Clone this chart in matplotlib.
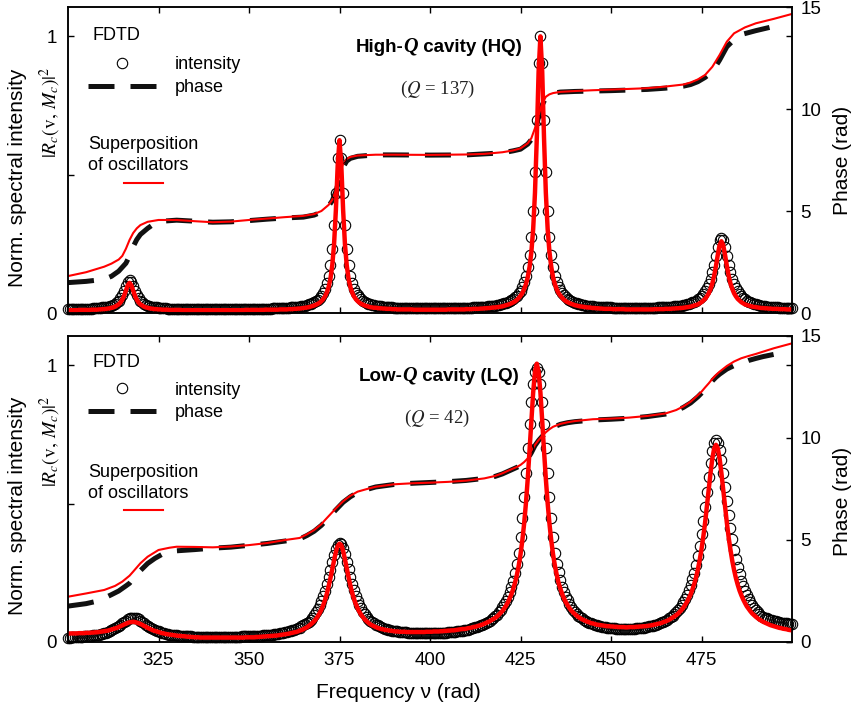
import numpy as np
import matplotlib
matplotlib.use("Agg")
import matplotlib.pyplot as plt
from matplotlib.lines import Line2D
from matplotlib.offsetbox import TextArea, HPacker, AnchoredOffsetbox

plt.rcParams['font.family'] = ['Liberation Sans', 'DejaVu Sans']
plt.rcParams['mathtext.fontset'] = 'stix'

# FDTD sampling of the frequency axis (rad)
freq = np.arange(300.0, 500.25, 0.5)

# High-Q cavity: normalised spectral intensity, FDTD points and oscillator fit
hq_fdtd = [
    0.014, 0.014, 0.014, 0.014, 0.014, 0.015, 0.015, 0.015, 0.015, 0.015,
    0.015, 0.016, 0.016, 0.016, 0.017, 0.017, 0.018, 0.018, 0.019, 0.020,
    0.021, 0.022, 0.023, 0.025, 0.027, 0.030, 0.034, 0.038, 0.045, 0.054,
    0.065, 0.080, 0.097, 0.111, 0.118, 0.111, 0.097, 0.080, 0.065, 0.054,
    0.045, 0.038, 0.034, 0.030, 0.027, 0.025, 0.023, 0.022, 0.021, 0.020,
    0.019, 0.018, 0.018, 0.017, 0.017, 0.016, 0.016, 0.016, 0.015, 0.015,
    0.015, 0.015, 0.015, 0.015, 0.015, 0.015, 0.014, 0.014, 0.014, 0.014,
    0.014, 0.014, 0.014, 0.014, 0.014, 0.014, 0.014, 0.014, 0.014, 0.014,
    0.014, 0.014, 0.014, 0.014, 0.014, 0.014, 0.014, 0.014, 0.014, 0.014,
    0.014, 0.014, 0.014, 0.014, 0.014, 0.014, 0.014, 0.014, 0.014, 0.015,
    0.015, 0.015, 0.015, 0.015, 0.015, 0.015, 0.015, 0.016, 0.016, 0.016,
    0.016, 0.016, 0.016, 0.017, 0.017, 0.017, 0.017, 0.017, 0.018, 0.018,
    0.018, 0.019, 0.019, 0.020, 0.020, 0.021, 0.022, 0.023, 0.023, 0.025,
    0.026, 0.027, 0.029, 0.031, 0.033, 0.036, 0.039, 0.043, 0.048, 0.055,
    0.063, 0.074, 0.088, 0.107, 0.135, 0.174, 0.232, 0.317, 0.435, 0.561,
    0.623, 0.561, 0.435, 0.317, 0.232, 0.174, 0.135, 0.107, 0.088, 0.074,
    0.064, 0.056, 0.049, 0.044, 0.040, 0.037, 0.034, 0.032, 0.030, 0.028,
    0.027, 0.025, 0.024, 0.024, 0.023, 0.022, 0.021, 0.021, 0.020, 0.020,
    0.019, 0.019, 0.019, 0.018, 0.018, 0.018, 0.018, 0.018, 0.018, 0.017,
    0.017, 0.017, 0.017, 0.017, 0.017, 0.017, 0.017, 0.017, 0.017, 0.017,
    0.017, 0.017, 0.017, 0.017, 0.017, 0.017, 0.017, 0.017, 0.017, 0.017,
    0.017, 0.017, 0.017, 0.017, 0.017, 0.017, 0.018, 0.018, 0.018, 0.018,
    0.018, 0.019, 0.019, 0.019, 0.020, 0.020, 0.020, 0.020, 0.021, 0.021,
    0.022, 0.023, 0.024, 0.024, 0.025, 0.026, 0.027, 0.028, 0.030, 0.031,
    0.033, 0.035, 0.037, 0.040, 0.043, 0.047, 0.051, 0.056, 0.063, 0.071,
    0.081, 0.095, 0.112, 0.135, 0.167, 0.211, 0.275, 0.369, 0.508, 0.698,
    0.904, 1.002, 0.904, 0.698, 0.508, 0.369, 0.275, 0.211, 0.167, 0.135,
    0.112, 0.095, 0.082, 0.072, 0.064, 0.057, 0.052, 0.048, 0.043, 0.040,
    0.037, 0.035, 0.033, 0.031, 0.030, 0.028, 0.027, 0.026, 0.025, 0.024,
    0.024, 0.023, 0.023, 0.022, 0.022, 0.021, 0.021, 0.021, 0.020, 0.020,
    0.020, 0.019, 0.019, 0.019, 0.019, 0.019, 0.019, 0.019, 0.019, 0.018,
    0.018, 0.018, 0.018, 0.018, 0.018, 0.018, 0.018, 0.018, 0.018, 0.018,
    0.019, 0.019, 0.019, 0.019, 0.019, 0.019, 0.020, 0.020, 0.020, 0.020,
    0.021, 0.021, 0.022, 0.022, 0.023, 0.024, 0.024, 0.025, 0.026, 0.027,
    0.028, 0.030, 0.031, 0.033, 0.035, 0.038, 0.041, 0.045, 0.049, 0.054,
    0.060, 0.068, 0.078, 0.090, 0.105, 0.124, 0.147, 0.175, 0.206, 0.238,
    0.262, 0.271, 0.262, 0.238, 0.206, 0.175, 0.147, 0.124, 0.105, 0.090,
    0.078, 0.068, 0.060, 0.054, 0.049, 0.045, 0.041, 0.038, 0.035, 0.033,
    0.031, 0.029, 0.028, 0.026, 0.025, 0.024, 0.023, 0.023, 0.022, 0.021,
    0.021, 0.020, 0.020, 0.019, 0.019, 0.019, 0.018, 0.018, 0.018, 0.017,
    0.017]

hq_fit = [
    0.010, 0.010, 0.010, 0.010, 0.010, 0.010, 0.011, 0.011, 0.011, 0.011,
    0.011, 0.011, 0.011, 0.012, 0.012, 0.012, 0.012, 0.013, 0.013, 0.014,
    0.014, 0.015, 0.016, 0.017, 0.019, 0.020, 0.023, 0.027, 0.031, 0.038,
    0.048, 0.062, 0.081, 0.100, 0.109, 0.100, 0.081, 0.062, 0.048, 0.038,
    0.031, 0.027, 0.023, 0.020, 0.019, 0.017, 0.016, 0.015, 0.014, 0.014,
    0.013, 0.013, 0.012, 0.012, 0.012, 0.012, 0.011, 0.011, 0.011, 0.011,
    0.011, 0.011, 0.011, 0.010, 0.010, 0.010, 0.010, 0.010, 0.010, 0.010,
    0.010, 0.010, 0.010, 0.010, 0.010, 0.010, 0.010, 0.010, 0.010, 0.010,
    0.010, 0.010, 0.010, 0.010, 0.010, 0.010, 0.010, 0.010, 0.010, 0.010,
    0.010, 0.010, 0.010, 0.010, 0.010, 0.010, 0.010, 0.010, 0.011, 0.011,
    0.011, 0.011, 0.011, 0.011, 0.011, 0.011, 0.011, 0.011, 0.011, 0.012,
    0.012, 0.012, 0.012, 0.012, 0.012, 0.012, 0.012, 0.013, 0.013, 0.013,
    0.013, 0.013, 0.014, 0.014, 0.014, 0.015, 0.015, 0.016, 0.016, 0.017,
    0.018, 0.019, 0.020, 0.021, 0.023, 0.025, 0.027, 0.030, 0.033, 0.037,
    0.043, 0.050, 0.060, 0.074, 0.094, 0.124, 0.172, 0.249, 0.372, 0.533,
    0.624, 0.533, 0.372, 0.249, 0.172, 0.124, 0.094, 0.074, 0.060, 0.050,
    0.043, 0.037, 0.033, 0.030, 0.027, 0.025, 0.023, 0.021, 0.020, 0.019,
    0.019, 0.018, 0.017, 0.017, 0.016, 0.016, 0.015, 0.015, 0.015, 0.014,
    0.014, 0.014, 0.013, 0.013, 0.013, 0.013, 0.013, 0.013, 0.013, 0.013,
    0.013, 0.012, 0.012, 0.012, 0.012, 0.012, 0.012, 0.012, 0.012, 0.012,
    0.012, 0.012, 0.012, 0.012, 0.012, 0.012, 0.012, 0.012, 0.012, 0.012,
    0.013, 0.013, 0.013, 0.013, 0.013, 0.013, 0.013, 0.013, 0.013, 0.013,
    0.014, 0.014, 0.014, 0.014, 0.015, 0.015, 0.015, 0.015, 0.016, 0.016,
    0.017, 0.017, 0.018, 0.018, 0.019, 0.020, 0.020, 0.021, 0.022, 0.023,
    0.024, 0.026, 0.028, 0.030, 0.032, 0.035, 0.038, 0.042, 0.047, 0.054,
    0.062, 0.072, 0.086, 0.104, 0.129, 0.166, 0.220, 0.303, 0.434, 0.631,
    0.871, 0.999, 0.871, 0.631, 0.434, 0.303, 0.220, 0.166, 0.129, 0.104,
    0.086, 0.072, 0.063, 0.055, 0.048, 0.043, 0.039, 0.036, 0.033, 0.031,
    0.028, 0.027, 0.025, 0.024, 0.023, 0.022, 0.021, 0.020, 0.020, 0.019,
    0.018, 0.018, 0.017, 0.017, 0.016, 0.016, 0.015, 0.015, 0.015, 0.015,
    0.015, 0.014, 0.014, 0.014, 0.014, 0.014, 0.014, 0.014, 0.013, 0.013,
    0.013, 0.013, 0.013, 0.013, 0.013, 0.013, 0.013, 0.013, 0.013, 0.013,
    0.013, 0.013, 0.013, 0.013, 0.014, 0.014, 0.014, 0.014, 0.014, 0.014,
    0.015, 0.015, 0.015, 0.015, 0.016, 0.016, 0.017, 0.017, 0.018, 0.018,
    0.019, 0.020, 0.021, 0.022, 0.023, 0.025, 0.027, 0.029, 0.031, 0.035,
    0.039, 0.045, 0.051, 0.060, 0.071, 0.087, 0.107, 0.135, 0.170, 0.210,
    0.245, 0.259, 0.245, 0.210, 0.170, 0.135, 0.107, 0.087, 0.071, 0.060,
    0.051, 0.045, 0.039, 0.035, 0.031, 0.029, 0.027, 0.025, 0.023, 0.022,
    0.021, 0.020, 0.019, 0.018, 0.018, 0.017, 0.017, 0.016, 0.016, 0.015,
    0.015, 0.015, 0.015, 0.014, 0.014, 0.014, 0.014, 0.013, 0.013, 0.013,
    0.013]

# Low-Q cavity: normalised spectral intensity
lq_fdtd = [
    0.016, 0.016, 0.017, 0.017, 0.017, 0.018, 0.018, 0.019, 0.019, 0.020,
    0.021, 0.021, 0.022, 0.023, 0.024, 0.025, 0.026, 0.027, 0.029, 0.030,
    0.032, 0.034, 0.037, 0.039, 0.042, 0.046, 0.049, 0.053, 0.058, 0.063,
    0.068, 0.073, 0.077, 0.082, 0.085, 0.087, 0.088, 0.087, 0.085, 0.082,
    0.077, 0.073, 0.068, 0.063, 0.058, 0.054, 0.050, 0.046, 0.043, 0.040,
    0.038, 0.035, 0.034, 0.032, 0.030, 0.029, 0.027, 0.026, 0.025, 0.024,
    0.024, 0.023, 0.022, 0.022, 0.021, 0.021, 0.020, 0.020, 0.020, 0.019,
    0.019, 0.019, 0.019, 0.019, 0.018, 0.018, 0.018, 0.018, 0.018, 0.018,
    0.018, 0.018, 0.018, 0.018, 0.018, 0.018, 0.018, 0.018, 0.018, 0.018,
    0.019, 0.019, 0.019, 0.019, 0.019, 0.019, 0.020, 0.020, 0.020, 0.020,
    0.021, 0.021, 0.021, 0.021, 0.022, 0.022, 0.023, 0.023, 0.024, 0.024,
    0.025, 0.026, 0.027, 0.027, 0.028, 0.029, 0.030, 0.031, 0.032, 0.033,
    0.035, 0.036, 0.038, 0.040, 0.042, 0.044, 0.046, 0.049, 0.052, 0.056,
    0.060, 0.064, 0.069, 0.074, 0.081, 0.088, 0.097, 0.107, 0.118, 0.132,
    0.147, 0.165, 0.185, 0.208, 0.233, 0.260, 0.288, 0.315, 0.337, 0.352,
    0.358, 0.353, 0.338, 0.316, 0.290, 0.262, 0.235, 0.209, 0.187, 0.166,
    0.149, 0.134, 0.121, 0.109, 0.100, 0.091, 0.084, 0.077, 0.072, 0.067,
    0.063, 0.060, 0.056, 0.053, 0.051, 0.048, 0.046, 0.044, 0.043, 0.041,
    0.040, 0.039, 0.038, 0.037, 0.036, 0.036, 0.035, 0.035, 0.034, 0.034,
    0.033, 0.033, 0.032, 0.032, 0.032, 0.032, 0.032, 0.032, 0.032, 0.032,
    0.032, 0.032, 0.032, 0.032, 0.033, 0.033, 0.033, 0.033, 0.034, 0.034,
    0.035, 0.035, 0.036, 0.036, 0.037, 0.038, 0.039, 0.040, 0.041, 0.042,
    0.043, 0.045, 0.047, 0.049, 0.051, 0.053, 0.055, 0.057, 0.060, 0.063,
    0.066, 0.069, 0.073, 0.077, 0.082, 0.087, 0.093, 0.099, 0.107, 0.115,
    0.125, 0.136, 0.148, 0.163, 0.180, 0.199, 0.222, 0.250, 0.282, 0.321,
    0.380, 0.448, 0.525, 0.610, 0.700, 0.788, 0.867, 0.931, 0.975, 0.988,
    0.975, 0.931, 0.867, 0.788, 0.700, 0.610, 0.525, 0.447, 0.380, 0.321,
    0.283, 0.251, 0.223, 0.200, 0.181, 0.164, 0.150, 0.137, 0.127, 0.117,
    0.109, 0.102, 0.095, 0.090, 0.085, 0.080, 0.076, 0.073, 0.070, 0.067,
    0.064, 0.062, 0.060, 0.058, 0.057, 0.055, 0.054, 0.053, 0.052, 0.051,
    0.050, 0.049, 0.049, 0.048, 0.048, 0.048, 0.047, 0.047, 0.047, 0.047,
    0.047, 0.048, 0.048, 0.048, 0.049, 0.050, 0.050, 0.051, 0.052, 0.053,
    0.054, 0.056, 0.057, 0.059, 0.061, 0.063, 0.065, 0.068, 0.071, 0.074,
    0.077, 0.081, 0.085, 0.090, 0.095, 0.101, 0.108, 0.115, 0.124, 0.133,
    0.144, 0.156, 0.170, 0.186, 0.205, 0.226, 0.250, 0.279, 0.311, 0.348,
    0.390, 0.437, 0.488, 0.543, 0.597, 0.648, 0.691, 0.719, 0.729, 0.720,
    0.695, 0.657, 0.611, 0.560, 0.509, 0.459, 0.413, 0.371, 0.333, 0.300,
    0.271, 0.245, 0.222, 0.202, 0.185, 0.169, 0.156, 0.144, 0.133, 0.124,
    0.115, 0.108, 0.101, 0.095, 0.092, 0.088, 0.085, 0.083, 0.080, 0.078,
    0.077, 0.075, 0.073, 0.071, 0.070, 0.069, 0.068, 0.067, 0.066, 0.066,
    0.065]

lq_fit = [
    0.030, 0.031, 0.031, 0.031, 0.031, 0.031, 0.032, 0.032, 0.032, 0.032,
    0.033, 0.033, 0.033, 0.034, 0.034, 0.035, 0.035, 0.036, 0.037, 0.038,
    0.039, 0.040, 0.041, 0.043, 0.045, 0.047, 0.049, 0.051, 0.054, 0.057,
    0.060, 0.063, 0.066, 0.069, 0.071, 0.072, 0.073, 0.072, 0.070, 0.068,
    0.065, 0.062, 0.058, 0.055, 0.051, 0.048, 0.045, 0.042, 0.040, 0.038,
    0.036, 0.034, 0.032, 0.031, 0.029, 0.028, 0.027, 0.026, 0.025, 0.024,
    0.023, 0.022, 0.022, 0.021, 0.021, 0.020, 0.019, 0.019, 0.018, 0.018,
    0.017, 0.017, 0.017, 0.016, 0.016, 0.016, 0.016, 0.016, 0.016, 0.016,
    0.016, 0.016, 0.016, 0.016, 0.016, 0.016, 0.016, 0.016, 0.016, 0.016,
    0.016, 0.016, 0.016, 0.016, 0.016, 0.016, 0.016, 0.016, 0.017, 0.017,
    0.017, 0.017, 0.017, 0.017, 0.018, 0.018, 0.019, 0.019, 0.020, 0.020,
    0.021, 0.021, 0.022, 0.022, 0.023, 0.023, 0.024, 0.025, 0.026, 0.027,
    0.028, 0.029, 0.030, 0.032, 0.033, 0.035, 0.036, 0.038, 0.041, 0.043,
    0.046, 0.050, 0.053, 0.058, 0.063, 0.069, 0.075, 0.083, 0.093, 0.104,
    0.117, 0.133, 0.152, 0.174, 0.201, 0.231, 0.263, 0.297, 0.326, 0.347,
    0.355, 0.350, 0.329, 0.299, 0.266, 0.234, 0.204, 0.178, 0.156, 0.137,
    0.122, 0.109, 0.098, 0.089, 0.081, 0.075, 0.069, 0.064, 0.060, 0.057,
    0.054, 0.051, 0.049, 0.047, 0.046, 0.044, 0.043, 0.042, 0.041, 0.040,
    0.039, 0.038, 0.038, 0.037, 0.037, 0.037, 0.037, 0.036, 0.036, 0.036,
    0.036, 0.036, 0.036, 0.036, 0.036, 0.036, 0.036, 0.036, 0.037, 0.037,
    0.037, 0.037, 0.038, 0.038, 0.038, 0.038, 0.039, 0.039, 0.040, 0.040,
    0.041, 0.041, 0.042, 0.042, 0.043, 0.044, 0.045, 0.046, 0.047, 0.047,
    0.048, 0.050, 0.051, 0.052, 0.054, 0.055, 0.057, 0.059, 0.061, 0.063,
    0.066, 0.069, 0.072, 0.075, 0.079, 0.083, 0.087, 0.092, 0.098, 0.105,
    0.112, 0.121, 0.131, 0.143, 0.157, 0.173, 0.192, 0.215, 0.242, 0.275,
    0.316, 0.366, 0.427, 0.501, 0.589, 0.691, 0.799, 0.901, 0.977, 1.005,
    0.976, 0.901, 0.799, 0.690, 0.589, 0.501, 0.427, 0.366, 0.316, 0.276,
    0.243, 0.215, 0.193, 0.174, 0.158, 0.144, 0.133, 0.123, 0.114, 0.107,
    0.101, 0.095, 0.090, 0.086, 0.082, 0.079, 0.076, 0.073, 0.071, 0.068,
    0.067, 0.065, 0.063, 0.062, 0.061, 0.060, 0.059, 0.058, 0.057, 0.057,
    0.056, 0.056, 0.055, 0.055, 0.054, 0.054, 0.054, 0.054, 0.053, 0.053,
    0.054, 0.054, 0.054, 0.054, 0.055, 0.055, 0.056, 0.056, 0.057, 0.057,
    0.058, 0.059, 0.060, 0.061, 0.063, 0.064, 0.066, 0.067, 0.069, 0.072,
    0.074, 0.077, 0.080, 0.084, 0.088, 0.092, 0.097, 0.102, 0.109, 0.116,
    0.124, 0.134, 0.145, 0.158, 0.172, 0.190, 0.210, 0.234, 0.262, 0.296,
    0.335, 0.380, 0.432, 0.490, 0.551, 0.611, 0.663, 0.699, 0.712, 0.699,
    0.663, 0.610, 0.550, 0.488, 0.431, 0.378, 0.333, 0.293, 0.260, 0.231,
    0.207, 0.186, 0.169, 0.154, 0.141, 0.129, 0.120, 0.111, 0.103, 0.097,
    0.091, 0.086, 0.081, 0.077, 0.073, 0.070, 0.067, 0.064, 0.061, 0.059,
    0.057, 0.055, 0.053, 0.051, 0.050, 0.048, 0.047, 0.046, 0.044, 0.043,
    0.042]

# Phase (rad): oscillator fit (red) and FDTD (dashed)
hq_ph_fit_nu = [300, 305, 310, 312, 314, 315, 316, 317, 318, 319,
                320, 322, 325, 330, 335, 340, 345, 350, 355, 360,
                365, 368, 370, 372, 373, 374, 374.5, 375, 375.5, 376,
                377, 378, 380, 385, 390, 400, 410, 415, 420, 423,
                425, 427, 428, 429, 430, 431, 432, 433, 434, 436,
                440, 445, 450, 460, 465, 470, 472, 474, 476, 478,
                480, 482, 484, 487, 490, 495, 500]
hq_ph_fit = [1.81, 2.0, 2.27, 2.42, 2.62, 2.8, 3.15, 3.58, 3.92, 4.15,
             4.31, 4.47, 4.56, 4.56, 4.5, 4.45, 4.48, 4.56, 4.63, 4.7,
             4.76, 4.85, 5.0, 5.3, 5.55, 6.0, 6.4, 6.85, 7.1, 7.3,
             7.55, 7.65, 7.72, 7.76, 7.76, 7.75, 7.77, 7.8, 7.88, 7.97,
             8.07, 8.32, 8.57, 9.06, 9.7, 10.28, 10.6, 10.72, 10.78, 10.84,
             10.88, 10.92, 10.95, 11.02, 11.1, 11.2, 11.3, 11.45, 11.67, 12.07,
             12.65, 13.3, 13.71, 14.0, 14.2, 14.42, 14.66]
hq_ph_fdtd_nu = [300, 305, 310, 312, 314, 316, 317, 318, 319, 320,
                 322, 324, 326, 330, 335, 340, 345, 350, 355, 360,
                 365, 368, 370, 372, 373, 374, 375, 376, 377, 378,
                 380, 385, 390, 400, 410, 420, 423, 425, 427, 428,
                 429, 430, 431, 432, 433, 434, 436, 440, 450, 460,
                 465, 470, 472, 474, 476, 478, 480, 482, 484, 486,
                 490, 495, 498]
hq_ph_fdtd = [1.49, 1.55, 1.65, 1.8, 2.05, 2.44, 2.8, 3.25, 3.6, 3.85,
              4.15, 4.4, 4.5, 4.55, 4.5, 4.45, 4.47, 4.53, 4.6, 4.66,
              4.7, 4.8, 4.95, 5.25, 5.5, 5.95, 6.6, 7.15, 7.45, 7.58,
              7.68, 7.75, 7.75, 7.74, 7.75, 7.85, 7.95, 8.03, 8.28, 8.5,
              8.95, 9.6, 10.2, 10.55, 10.7, 10.77, 10.83, 10.86, 10.9, 10.96,
              11.02, 11.12, 11.2, 11.34, 11.55, 11.83, 12.4, 13.05, 13.4, 13.65,
              13.84, 14.05, 14.12]

lq_ph_fit_nu = [300, 305, 310, 313, 315, 317, 318, 320, 322, 324,
                325, 328, 330, 335, 340, 345, 350, 355, 360, 364,
                366, 368, 370, 371, 372, 374, 376, 377, 378, 380,
                383, 385, 390, 395, 400, 405, 410, 415, 418, 420,
                422, 424, 425, 426, 427, 428, 429, 430, 431, 432,
                433, 434, 436, 438, 440, 445, 450, 455, 460, 465,
                468, 470, 472, 474, 475, 476, 477, 478, 479, 480,
                482, 484, 486, 488, 490, 495, 500]
lq_ph_fit = [2.22, 2.38, 2.55, 2.75, 2.96, 3.25, 3.45, 3.86, 4.18, 4.4,
             4.51, 4.62, 4.67, 4.66, 4.64, 4.68, 4.75, 4.85, 5.0, 5.1,
             5.28, 5.49, 5.78, 5.98, 6.17, 6.55, 6.9, 7.04, 7.17, 7.37,
             7.52, 7.61, 7.73, 7.78, 7.81, 7.85, 7.91, 8.02, 8.14, 8.27,
             8.43, 8.58, 8.68, 8.82, 9.0, 9.3, 9.66, 9.9, 10.1, 10.28,
             10.43, 10.55, 10.69, 10.77, 10.83, 10.92, 10.95, 11.0, 11.08, 11.2,
             11.37, 11.55, 11.78, 12.1, 12.27, 12.48, 12.68, 12.9, 13.09, 13.25,
             13.53, 13.75, 13.91, 14.02, 14.12, 14.4, 14.64]
lq_ph_fdtd_nu = [300, 305, 308, 310, 312, 314, 316, 317, 318, 320,
                 322, 324, 326, 328, 330, 335, 340, 345, 350, 355,
                 360, 364, 366, 368, 370, 372, 374, 376, 378, 380,
                 383, 385, 390, 395, 400, 405, 410, 415, 418, 420,
                 422, 424, 425, 426, 427, 428, 429, 430, 431, 432,
                 433, 434, 436, 438, 440, 445, 450, 455, 460, 465,
                 468, 470, 472, 474, 475, 476, 477, 478, 479, 480,
                 482, 484, 486, 488, 490, 492, 495, 498]
lq_ph_fdtd = [1.76, 1.88, 2.0, 2.15, 2.32, 2.5, 2.75, 2.88, 3.1, 3.5,
              3.85, 4.1, 4.3, 4.4, 4.47, 4.53, 4.6, 4.65, 4.74, 4.83,
              4.95, 5.05, 5.22, 5.43, 5.72, 6.1, 6.48, 6.85, 7.12, 7.33,
              7.5, 7.6, 7.72, 7.78, 7.82, 7.86, 7.92, 8.02, 8.12, 8.24,
              8.4, 8.56, 8.66, 8.8, 8.98, 9.28, 9.63, 9.88, 10.08, 10.26,
              10.41, 10.53, 10.67, 10.75, 10.8, 10.88, 10.92, 10.97, 11.05, 11.17,
              11.33, 11.5, 11.72, 12.02, 12.2, 12.4, 12.6, 12.8, 12.98, 13.13,
              13.38, 13.55, 13.66, 13.8, 13.9, 13.99, 14.1, 14.2]

freq_ticks = [325, 350, 375, 400, 425, 450, 475]
phase_ticks = [0, 5, 10, 15]

RED = "#ff0000"
BLACK = "#111111"
DASH = (5.2, 3.2)
FS = 13

W, H = 854, 707
fig = plt.figure(figsize=(W / 100, H / 100), dpi=100)


def px_rect(left, top, right, bottom):
    return [left / W, 1 - bottom / H, (right - left) / W, (bottom - top) / H]


ax_hq = fig.add_axes(px_rect(68, 7, 792, 313))
ax_lq = fig.add_axes(px_rect(68, 336, 792, 642))

# per panel: legend anchor heights (axes fraction) for FDTD, entries, fit key
panels = [
    (ax_hq, hq_fdtd, hq_fit, hq_ph_fdtd_nu, hq_ph_fdtd, hq_ph_fit_nu, hq_ph_fit,
     "High-", " cavity (HQ)", "137", 0.908, 0.839, 0.577),
    (ax_lq, lq_fdtd, lq_fit, lq_ph_fdtd_nu, lq_ph_fdtd, lq_ph_fit_nu, lq_ph_fit,
     "Low-", " cavity (LQ)", "42", 0.915, 0.851, 0.583),
]

for (ax, fdtd, fit, ph_nu_fdtd, ph_fdtd, ph_nu_fit, ph_fit, pre, post, qval,
     y_fdtd, y_leg, y_leg2) in panels:
    ph = ax.twinx()
    ax.set_zorder(ph.get_zorder() + 1)
    ax.patch.set_visible(False)

    # phase curves (right axis)
    ph.plot(ph_nu_fdtd, ph_fdtd, color=BLACK, lw=3.6, dashes=DASH,
            dash_capstyle="butt")
    ph.plot(ph_nu_fit, ph_fit, color=RED, lw=1.5)
    ph.set_ylim(0, 15)
    ph.set_yticks(phase_ticks)
    ph.tick_params(axis="y", direction="in", length=4.5, width=1.0,
                   labelsize=13.5, pad=6)

    # intensity (left axis)
    ax.plot(freq, fdtd, "o", ms=7.5, mfc="none", mec="black", mew=0.8,
            clip_on=False)
    ax.plot(freq, fit, color=RED, lw=3.2, solid_joinstyle="round")

    ax.set_xlim(300, 500)
    ax.set_ylim(0, 1.105)
    ax.set_xticks(freq_ticks)
    ax.set_yticks([0, 1])
    ax.set_yticklabels(["0", "1"])
    ax.set_yticks([0.5], minor=True)
    ax.tick_params(axis="both", which="both", direction="in", length=4.5,
                   width=1.0, labelsize=13.5)
    ax.tick_params(axis="x", top=True, pad=7)
    ax.tick_params(axis="y", which="major", right=True, pad=8)
    for a in (ax, ph):
        for s in a.spines.values():
            s.set_linewidth(1.1)

    # legends
    ax.text(0.0345, y_fdtd, "FDTD", transform=ax.transAxes, fontsize=FS,
            ha="left", va="center")
    h_circ = Line2D([], [], ls="none", marker="o", ms=7.5, mfc="none",
                    mec="black", mew=0.8)
    h_dash = Line2D([], [], color=BLACK, lw=3.6, dashes=DASH,
                    dash_capstyle="butt")
    h_fit = Line2D([], [], color=RED, lw=1.5)
    leg1 = ax.legend([h_circ, h_dash], ["intensity", "phase"],
                     loc="upper left", bbox_to_anchor=(0.0276, y_leg),
                     frameon=False, borderpad=0, borderaxespad=0,
                     handlelength=3.82, handletextpad=1.0, labelspacing=0.32,
                     fontsize=FS)
    ax.add_artist(leg1)
    leg2 = ax.legend([h_fit], [""], title="Superposition\nof oscillators",
                     loc="upper left", bbox_to_anchor=(0.0276, y_leg2),
                     frameon=False, borderpad=0, borderaxespad=0,
                     handlelength=2.16, handletextpad=0, labelspacing=0.1,
                     alignment="center", fontsize=FS, title_fontsize=FS)
    leg2.get_title().set_multialignment("left")
    leg2.get_title().set_linespacing(1.3)

    # cavity title with italic serif Q
    parts = [TextArea(pre, textprops=dict(fontsize=13.5, fontweight="bold")),
             TextArea("Q", textprops=dict(fontsize=14.5, fontweight="bold",
                                          fontstyle="italic",
                                          family="Liberation Serif")),
             TextArea(post, textprops=dict(fontsize=13.5, fontweight="bold"))]
    box = HPacker(children=parts, align="baseline", pad=0, sep=0)
    ax.add_artist(AnchoredOffsetbox(loc="center", child=box,
                                    bbox_to_anchor=(0.512, 0.87),
                                    bbox_transform=ax.transAxes,
                                    frameon=False, pad=0, borderpad=0))
    ax.text(0.51, 0.73, "($Q$ = %s)" % qval, transform=ax.transAxes,
            family="Liberation Serif", fontsize=13.5, ha="center",
            va="center", color="#222222")

ax_hq.tick_params(axis="x", labelbottom=False)

# axis labels
for yc, ym in ((178, 112), (506, 441)):
    fig.text(18 / W, 1 - yc / H, "Norm. spectral intensity", rotation=90,
             ha="center", va="center", fontsize=15)
    fig.text(50 / W, 1 - ym / H, r"$|R_c(\mathrm{v},\, M_c)|^2$",
             rotation=90, ha="center", va="center", fontsize=14)
for yc in (160, 501):
    fig.text(843 / W, 1 - yc / H, "Phase (rad)", rotation=90,
             ha="center", va="center", fontsize=15)
fig.text(398 / W, 1 - 692 / H, "Frequency ν (rad)", ha="center",
         va="center", fontsize=15)

fig.savefig("out.png", dpi=100)
